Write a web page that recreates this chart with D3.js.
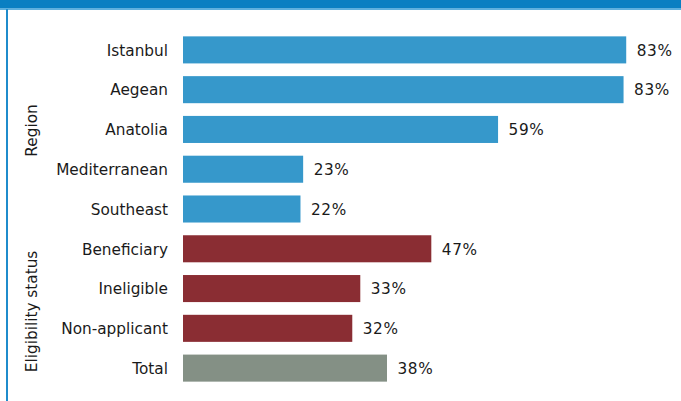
<!DOCTYPE html>
<html>
<head>
<meta charset="utf-8">
<script src="https://cdn.jsdelivr.net/npm/d3@7"></script>
<style>
  html, body { margin: 0; padding: 0; background: #fff; }
  svg { display: block; }
  text { font-family: "DejaVu Sans", Verdana, sans-serif; fill: #1a1a1a; }
</style>
</head>
<body>
<svg id="chart" width="681" height="401"></svg>
<script>
// Share of respondents, by region and by eligibility status
const categories = ["Istanbul", "Aegean", "Anatolia", "Mediterranean", "Southeast",
                    "Beneficiary", "Ineligible", "Non-applicant", "Total"];
const values = [83.0, 82.5, 59.0, 22.5, 22.0, 46.5, 33.2, 31.7, 38.2];
const groups = ["Region", "Region", "Region", "Region", "Region",
                "Eligibility status", "Eligibility status", "Eligibility status", "Total"];
const groupColors = { "Region": "#3698cb", "Eligibility status": "#8a2d33", "Total": "#849085" };

const svg = d3.select("#chart");
const W = 681, H = 401;
const FONT = "15.3px";

// frame: top band and left rule
svg.append("rect").attr("x", 0).attr("y", 0).attr("width", W).attr("height", 8).attr("fill", "#0a7fc2");
svg.append("rect").attr("x", 0).attr("y", 8).attr("width", W).attr("height", 2).attr("fill", "#5fb0de");
svg.append("rect").attr("x", 6).attr("y", 9).attr("width", 2).attr("height", H - 9).attr("fill", "#1f8ccc");

const x = d3.scaleLinear().domain([0, 100]).range([183, 183 + 534]);
const y = d3.scaleBand().domain(categories).range([30, 388]).paddingInner(0.32).paddingOuter(0.16);

const rows = categories.map((c, i) => ({ cat: c, val: values[i], grp: groups[i] }));

svg.append("g").selectAll("rect").data(rows).join("rect")
  .attr("x", x(0))
  .attr("y", d => y(d.cat))
  .attr("width", d => x(d.val) - x(0))
  .attr("height", y.bandwidth())
  .attr("fill", d => groupColors[d.grp]);

// category labels via a left axis without lines
const yAxis = d3.axisLeft(y).tickSize(0).tickPadding(15);
const ga = svg.append("g").attr("transform", `translate(${x(0)},0)`).call(yAxis);
ga.select(".domain").remove();
ga.selectAll("text").style("font-family", "\"DejaVu Sans\", Verdana, sans-serif")
  .style("font-size", FONT).attr("fill", "#1a1a1a").attr("dy", "0.38em");

// value labels
svg.append("g").selectAll("text").data(rows).join("text")
  .attr("x", d => x(d.val) + 10.5)
  .attr("y", d => y(d.cat) + y.bandwidth() / 2)
  .attr("dy", "0.38em")
  .style("font-size", FONT)
  .style("letter-spacing", "0.6px")
  .text(d => Math.round(d.val) + "%");

// rotated group titles
const groupSpans = [
  { name: "Region", first: "Istanbul", last: "Southeast", shift: 1 },
  { name: "Eligibility status", first: "Beneficiary", last: "Total", shift: 3 }
];
svg.append("g").selectAll("text").data(groupSpans).join("text")
  .attr("transform", d => {
    const cy = (y(d.first) + y(d.last) + y.bandwidth()) / 2 + d.shift;
    return `translate(37,${cy}) rotate(-90)`;
  })
  .attr("text-anchor", "middle")
  .style("font-size", FONT)
  .text(d => d.name);
</script>
</body>
</html>
